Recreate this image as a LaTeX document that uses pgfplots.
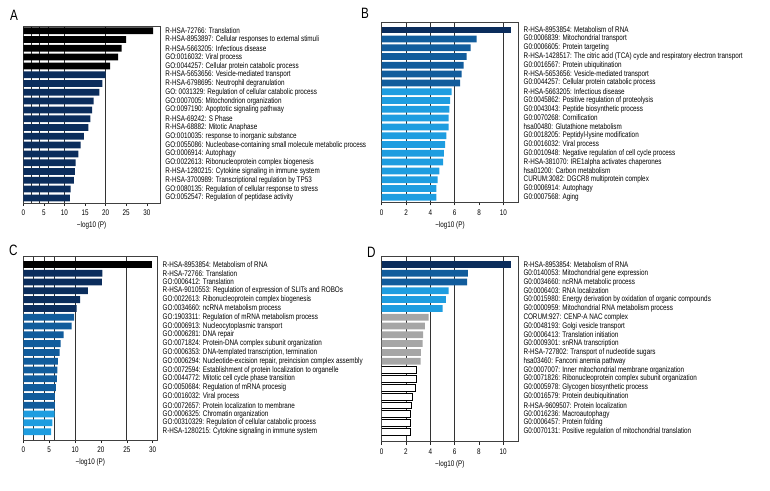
\documentclass[border=0pt]{standalone}
\usepackage{fontspec}
\setmainfont{Liberation Sans}[FakeStretch=0.78]
\usepackage{pgfplots}
\pgfplotsset{compat=1.18}
\definecolor{cblack}{HTML}{000000}
\definecolor{cnavy}{HTML}{0B2D5C}
\definecolor{cmed}{HTML}{115C9C}
\definecolor{clight}{HTML}{1E9DE0}
\definecolor{cgray}{HTML}{A6A6A6}
\newcommand{\lab}{\fontsize{8.1}{8.5}\selectfont}
\pgfplotsset{
  panel/.style={
    xbar, scale only axis, y dir=reverse,
    anchor=north west,
    ytick={1,...,20}, ytick pos=right, yticklabel pos=right,
    y tick style={draw=none},
    yticklabel style={anchor=west, inner sep=0pt, xshift=2.2pt, font=\lab},
    xmin=0, tick align=outside, xtick pos=bottom,
    x tick style={black!85, line width=0.5pt},
    major tick length=3pt,
    axis line style={black!75, line width=0.6pt},
    bar width=0.77,
    xticklabel style={font=\lab, inner sep=1.5pt, yshift=-2.5pt},
    xlabel={−log10 (P)}, xlabel style={font=\lab, yshift=-1pt},
    /pgf/number format/assume math mode=true,
  },
  bb/.style={fill=#1, draw=none, bar shift=0pt},
  bw/.style={fill=white, draw=black, line width=0.5pt, bar shift=0pt},
}
\tikzset{gl/.style={black!80, line width=0.6pt}}
\newcommand{\vl}[1]{\draw[gl] ({axis cs:#1,1} |- {rel axis cs:0,0}) -- ({axis cs:#1,1} |- {rel axis cs:0,1});}
\begin{document}
\begin{tikzpicture}
\path[use as bounding box] (0pt,0pt) rectangle (770pt,-490pt);
\node[anchor=north west, inner sep=0pt, font=\fontsize{15}{15}\selectfont] at (10pt,-10pt) {A};
\node[anchor=north west, inner sep=0pt, font=\fontsize{15}{15}\selectfont] at (361pt,-8pt) {B};
\node[anchor=north west, inner sep=0pt, font=\fontsize{15}{15}\selectfont] at (9pt,-245pt) {C};
\node[anchor=north west, inner sep=0pt, font=\fontsize{15}{15}\selectfont] at (367pt,-247pt) {D};

% Panel A
\begin{axis}[panel, at={(23.3pt,-26.7pt)}, width=136.7pt, height=176.3pt,
  xmax=33.2, ymin=0.545, ymax=20.58,
  xtick={0,5,10,15,20,25,30},
  yticklabels={
    R-HSA-72766: Translation,
    R-HSA-8953897: Cellular responses to external stimuli,
    R-HSA-5663205: Infectious disease,
    GO:0016032: Viral process,
    GO:0044257: Cellular protein catabolic process,
    R-HSA-5653656: Vesicle-mediated transport,
    R-HSA-6798695: Neutrophil degranulation,
    GO: 0031329: Regulation of cellular catabolic process,
    GO:0007005: Mitochondrion organization,
    GO:0097190: Apoptotic signaling pathway,
    R-HSA-69242: S Phase,
    R-HSA-68882: Mitotic Anaphase,
    GO:0010035: response to inorganic substance,
    GO:0055086: Nucleobase-containing small molecule metabolic process,
    GO:0006914: Autophagy,
    GO:0022613: Ribonucleoprotein complex biogenesis,
    R-HSA-1280215: Cytokine signaling in immune system,
    R-HSA-3700989: Transcriptional regulation by TP53,
    GO:0080135: Regulation of cellular response to stress,
    GO:0052547: Regulation of peptidase activity}]
\vl{2}\vl{4}\vl{6}\vl{10}\vl{20}
\addplot[bb=cblack] coordinates {(31.5,1) (25.0,2) (23.9,3) (23.0,4) (21.1,5)};
\addplot[bb=cnavy] coordinates {(20.0,6) (19.2,7) (18.5,8) (17.1,9) (16.7,10) (16.3,11) (15.8,12) (14.7,13) (13.9,14) (13.4,15) (12.7,16) (12.5,17) (12.3,18) (11.5,19) (11.3,20)};
\end{axis}

% Panel B
\begin{axis}[panel, at={(381.7pt,-22.7pt)}, width=136.6pt, height=179.6pt,
  xmax=11.23, ymin=0.16, ymax=20.57,
  xtick={0,2,4,6,8,10},
  yticklabels={
    R-HSA-8953854: Metabolism of RNA,
    G0:0006839: Mitochondrial transport,
    G0:0006605: Protein targeting,
    R-HSA-1428517: The citric acid (TCA) cycle and respiratory electron transport,
    G0:0016567: Protein ubiquitination,
    R-HSA-5653656: Vesicle-mediated transport,
    G0:0044257: Cellular protein catabolic process,
    R-HSA-5663205: Infectious disease,
    G0:0045862: Positive regulation of proteolysis,
    G0:0043043: Peptide biosynthetic process,
    G0:0070268: Cornification,
    hsa00480: Glutathione metabolism,
    G0:0018205: Peptidyl-lysine modification,
    G0:0016032: Viral process,
    G0:0010948: Negative regulation of cell cycle process,
    R-HSA-381070: IRE1alpha activates chaperones,
    hsa01200: Carbon metabolism,
    CURUM:3082: DGCR8 multiprotein complex,
    G0:0006914: Autophagy,
    G0:0007568: Aging}]
\vl{2}\vl{4}\vl{6}\vl{10}
\addplot[bb=cnavy] coordinates {(10.66,1)};
\addplot[bb=cmed] coordinates {(7.81,2) (7.32,3) (6.99,4) (6.74,5) (6.58,6) (6.44,7)};
\addplot[bb=clight] coordinates {(5.75,8) (5.62,9) (5.56,10) (5.51,11) (5.51,12) (5.32,13) (5.21,14) (5.12,15) (5.04,16) (4.74,17) (4.60,18) (4.49,19) (4.49,20)};
\end{axis}

% Panel C
\begin{axis}[panel, at={(23.3pt,-256.7pt)}, width=134pt, height=183.3pt,
  xmax=25.9, ymin=0.125, ymax=20.95,
  xtick={0,5,10,15,20,25}, xticklabels={0,5,10,20,25,30},
  yticklabels={
    R-HSA-8953854: Metabolism of RNA,
    R-HSA-72766: Translation,
    GO:0006412: Translation,
    R-HSA-9010553: Regulation of expression of SLITs and ROBOs,
    GO:0022613: Ribonucleoprotein complex biogenesis,
    GO:0034660: ncRNA metabolism process,
    GO:1903311: Regulation of mRNA metabolism process,
    GO:0006913: Nucleocytoplasmic transport,
    GO:0006281: DNA repair,
    GO:0071824: Protein-DNA complex subunit organization,
    {GO:0006353: DNA-templated transcription, termination},
    {GO:0006294: Nucleotide-excision repair, preincision complex assembly},
    GO:0072594: Establishment of protein localization to organelle,
    GO:0044772: Mitotic cell cycle phase transition,
    GO:0050684: Regulation of mRNA procesig,
    GO:0016032: Viral process,
    GO:0072657: Protein localization to membrane,
    GO:0006325: Chromatin organization,
    GO:00310329: Regulation of cellular catabolic process,
    R-HSA-1280215: Cytokine signaling in immune system}]
\vl{2}\vl{4}\vl{6}\vl{10}\vl{20}
\addplot[bb=cblack] coordinates {(24.8,1)};
\addplot[bb=cnavy] coordinates {(15.3,2) (15.2,3) (12.5,4) (11.0,5) (10.3,6)};
\addplot[bb=cmed] coordinates {(9.8,7) (9.35,8) (7.8,9) (7.2,10) (7.0,11) (6.7,12) (6.6,13) (6.5,14) (6.3,15) (6.1,16) (6.1,17)};
\addplot[bb=clight] coordinates {(6.05,18) (5.6,19) (5.4,20)};
\end{axis}

% Panel D
\begin{axis}[panel, at={(381.7pt,-256pt)}, width=136.4pt, height=185.7pt,
  xmax=11.23, ymin=0.045, ymax=21.15,
  xtick={0,2,4,6,8,10},
  yticklabels={
    R-HSA-8953854: Metabolism of RNA,
    G0:0140053: Mitochondrial gene expression,
    G0:0034660: ncRNA metabolic process,
    G0:0006403: RNA localization,
    G0:0015980: Energy derivation by oxidation of organic compounds,
    G0:0000959: Mitochondrial RNA metabolism process,
    CORUM:927: CENP-A NAC complex,
    G0:0048193: Golgi vesicle transport,
    G0:0006413: Translation initiation,
    G0:0009301: snRNA transcription,
    R-HSA-727802: Transport of nucleotide sugars,
    hsa03460: Fanconi anemia pathway,
    G0:0007007: Inner mitochondrial membrane organization,
    G0:0071826: Ribonucleoprotein complex subunit organization,
    G0:0005978: Glycogen biosynthetic process,
    G0:0016579: Protein deubiquitination,
    R-HSA-9609507: Protein localization,
    G0:0016236: Macroautophagy,
    G0:0006457: Protein folding,
    G0:0070131: Positive regulation of mitochondrial translation}]
\vl{2}\vl{4}\vl{6}\vl{10}
\addplot[bb=cnavy] coordinates {(10.63,1)};
\addplot[bb=cmed] coordinates {(7.10,2) (7.04,3)};
\addplot[bb=clight] coordinates {(5.51,4) (5.29,5) (5.01,6)};
\addplot[bb=cgray] coordinates {(3.86,7) (3.56,8) (3.42,9) (3.37,10) (3.23,11) (3.21,12)};
\addplot[bw] coordinates {(2.85,13) (2.82,14) (2.77,15) (2.55,16) (2.44,17) (2.38,18) (2.38,19) (2.38,20)};
\end{axis}
\end{tikzpicture}
\end{document}
